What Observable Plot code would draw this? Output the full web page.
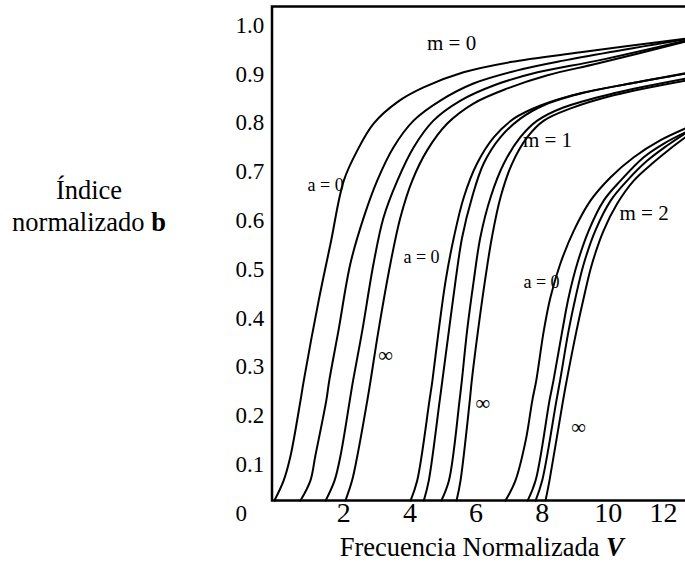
<!DOCTYPE html>
<html><head><meta charset="utf-8">
<script src="https://cdn.jsdelivr.net/npm/d3@7"></script>
<script src="https://cdn.jsdelivr.net/npm/@observablehq/plot@0.6"></script>
<style>
html,body{margin:0;padding:0;background:#fff;overflow:hidden;}
#chart svg{overflow:hidden !important;display:block;}
</style></head><body><div id="chart"></div>
<script>
// Curves [V, b]: m = 0, 1, 2 ; a = 0 ... infinity (left to right)
const m0_c1 = [[-0.10,0.026],[0.18,0.067],[0.39,0.118],[0.69,0.231],[0.79,0.272],[1.24,0.436],[1.60,0.553],[2.00,0.682],[2.41,0.744],[2.90,0.799],[3.62,0.843],[4.41,0.873],[5.62,0.904],[7.04,0.925],[9.16,0.945],[12.33,0.973]];
const m0_c2 = [[0.69,0.026],[0.99,0.067],[1.14,0.118],[1.47,0.231],[1.56,0.272],[1.84,0.375],[2.20,0.512],[2.60,0.606],[3.01,0.682],[3.50,0.750],[4.11,0.805],[4.92,0.846],[5.92,0.881],[7.25,0.908],[8.64,0.928],[12.33,0.972]];
const m0_c3 = [[1.45,0.026],[1.72,0.067],[1.90,0.118],[2.18,0.231],[2.28,0.272],[2.56,0.375],[2.90,0.512],[3.20,0.606],[3.62,0.682],[4.11,0.750],[4.71,0.805],[5.53,0.846],[6.53,0.877],[7.86,0.904],[9.67,0.928],[12.33,0.969]];
const m0_c4 = [[2.05,0.026],[2.25,0.067],[2.41,0.118],[2.71,0.231],[2.81,0.272],[3.05,0.375],[3.41,0.512],[3.71,0.606],[4.07,0.682],[4.52,0.744],[5.13,0.799],[5.92,0.840],[6.95,0.871],[8.16,0.898],[9.67,0.922],[12.33,0.967]];
const m1_c1 = [[4.02,0.026],[4.22,0.067],[4.59,0.231],[4.68,0.272],[4.87,0.375],[5.08,0.477],[5.33,0.566],[5.63,0.648],[6.03,0.717],[6.54,0.771],[7.14,0.809],[7.95,0.836],[9.16,0.861],[10.67,0.881],[12.33,0.902]];
const m1_c2 = [[4.42,0.026],[4.57,0.067],[4.90,0.231],[4.98,0.272],[5.18,0.375],[5.38,0.477],[5.58,0.566],[5.88,0.648],[6.23,0.717],[6.74,0.771],[7.34,0.809],[8.10,0.838],[9.31,0.863],[10.82,0.883],[12.33,0.901]];
const m1_c3 = [[4.95,0.026],[5.18,0.067],[5.50,0.231],[5.57,0.272],[5.73,0.375],[5.93,0.477],[6.13,0.566],[6.44,0.648],[6.84,0.717],[7.34,0.771],[7.85,0.805],[8.64,0.832],[10.16,0.861],[12.33,0.891]];
const m1_c4 = [[5.41,0.026],[5.53,0.067],[5.81,0.231],[5.87,0.272],[6.06,0.375],[6.27,0.477],[6.48,0.566],[6.74,0.648],[7.09,0.717],[7.55,0.771],[8.05,0.805],[8.86,0.830],[10.16,0.857],[12.33,0.887]];
const m2_c1 = [[6.89,0.026],[7.19,0.067],[7.50,0.149],[7.70,0.231],[7.82,0.272],[8.05,0.375],[8.25,0.443],[8.55,0.512],[8.96,0.580],[9.46,0.641],[10.07,0.689],[10.77,0.730],[11.58,0.765],[12.33,0.789]];
const m2_c2 = [[7.56,0.026],[7.80,0.067],[8.22,0.231],[8.34,0.272],[8.61,0.375],[8.80,0.443],[9.06,0.512],[9.41,0.580],[9.86,0.641],[10.37,0.682],[11.07,0.730],[11.68,0.758],[12.33,0.781]];
const m2_c3 = [[7.80,0.026],[8.00,0.067],[8.43,0.231],[8.54,0.272],[8.80,0.375],[9.01,0.443],[9.26,0.512],[9.61,0.580],[10.07,0.641],[10.57,0.682],[11.18,0.723],[11.78,0.754],[12.33,0.779]];
const m2_c4 = [[8.10,0.026],[8.22,0.067],[8.63,0.231],[8.74,0.272],[9.04,0.375],[9.26,0.443],[9.51,0.512],[9.86,0.580],[10.27,0.635],[10.77,0.682],[11.38,0.720],[11.88,0.748],[12.33,0.771]];

const yTickValues = [0,0.1,0.2,0.3,0.4,0.5,0.6,0.7,0.8,0.9,1.0];
const yTickLabels = ["0","0.1","0.2","0.3","0.4","0.5","0.6","0.7","0.8","0.9","1.0"];
const xTickValues = [2,4,6,8,10,11.67];
const xTickLabels = ["2","4","6","8","10","12"];

const modeLabels = [{t:"m = 0",V:5.26,b:0.963},{t:"m = 1",V:8.16,b:0.764},{t:"m = 2",V:11.08,b:0.616}];
const aLabels = [{t:"a = 0",V:1.45,b:0.672},{t:"a = 0",V:4.35,b:0.524},{t:"a = 0",V:7.98,b:0.473}];
const infLabels = [{t:"∞",V:3.26,b:0.323},{t:"∞",V:6.20,b:0.225},{t:"∞",V:9.10,b:0.176}];

const curves = [m0_c1,m0_c2,m0_c3,m0_c4,m1_c1,m1_c2,m1_c3,m1_c4,m2_c1,m2_c2,m2_c3,m2_c4];
const lineData = curves.flatMap((c,ci)=>c.map(([V,b])=>({V,b,id:ci})));

const svg = Plot.plot({
  width:685, height:562,
  marginLeft:271.5, marginTop:6, marginRight:-2, marginBottom:62,
  x:{domain:[2,8], range:[343.3,541.7], axis:null},
  y:{domain:[0.1,1.0], range:[464,25], axis:null},
  style:{fontFamily:"'Liberation Serif','Times New Roman',serif", background:"white", color:"black"},
  marks:[
    Plot.line(lineData,{x:"V",y:"b",z:"id",stroke:"black",strokeWidth:2,curve:"catmull-rom"}),
    Plot.frame({stroke:"black",strokeWidth:2.5}),
    Plot.text(yTickValues,{y:d=>d,text:(d,i)=>yTickLabels[i],frameAnchor:"left",textAnchor:"start",lineAnchor:"middle",dx:-36.5,fontSize:23,fill:"black"}),
    Plot.text(xTickValues,{x:d=>d,text:(d,i)=>xTickLabels[i],frameAnchor:"bottom",textAnchor:"middle",lineAnchor:"middle",dy:13,fontSize:28,fill:"black"}),
    Plot.text(modeLabels,{x:"V",y:"b",text:"t",fontSize:21,fill:"black"}),
    Plot.text(aLabels,{x:"V",y:"b",text:"t",fontSize:18,fill:"black"}),
    Plot.text(infLabels,{x:"V",y:"b",text:"t",fontSize:21,fill:"black"}),
    Plot.text(["Índice"],{frameAnchor:"top-left",dx:-183,dy:184,textAnchor:"middle",lineAnchor:"middle",fontSize:26.5,fill:"black"}),
    Plot.text(["normalizado b"],{frameAnchor:"top-left",dx:-183,dy:216,textAnchor:"middle",lineAnchor:"middle",fontSize:26.5,fill:"black"}),
    Plot.text(["Frecuencia Normalizada V"],{frameAnchor:"bottom",dx:2,dy:47,textAnchor:"middle",lineAnchor:"middle",fontSize:26.5,fill:"black"})
  ]
});
document.getElementById("chart").appendChild(svg);

// bold / bold-italic last letters of the axis titles
d3.select(svg).selectAll("text").each(function(){
  const el = d3.select(this);
  const s = this.textContent;
  if (s === "normalizado b") {
    el.text("normalizado ");
    el.append("tspan").attr("font-weight","bold").text("b");
  } else if (s === "Frecuencia Normalizada V") {
    el.text("Frecuencia Normalizada ");
    el.append("tspan").attr("font-weight","bold").attr("font-style","italic").text("V");
  }
});
</script></body></html>
